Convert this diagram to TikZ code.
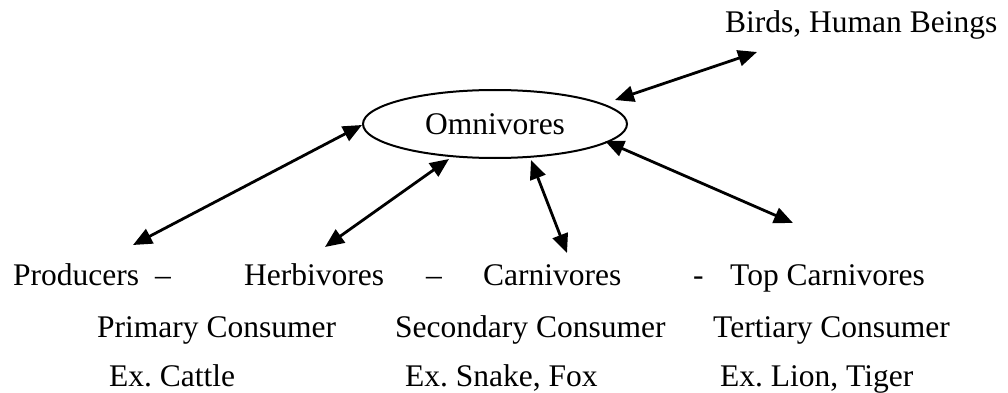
\documentclass[tikz,border=0pt]{standalone}
\usepackage{fontspec}
\setmainfont{Liberation Serif}
\usetikzlibrary{arrows.meta,shapes.geometric}
\begin{document}
\begin{tikzpicture}[x=1pt,y=-1pt,
  lbl/.style={anchor=base west,inner sep=0pt,font=\fontsize{31.5}{36}\selectfont},
  oval/.style={draw,ellipse,line width=2pt,minimum width=264pt,minimum height=68pt,inner sep=0pt,font=\fontsize{31.5}{36}\selectfont},
  link/.style={line width=2.8pt,{Triangle[length=19pt,width=16pt]}-{Triangle[length=19pt,width=16pt]}}]
\useasboundingbox (0,0) rectangle (1008,393);
% central node
\node[oval] (om) at (495,124) {Omnivores};
% top right label
\node[lbl] (birds) at (725,33) {Birds, Human Beings};
% row 1
\node[lbl] (prod) at (13,285) {Producers};
\node[lbl] (d1) at (155,285) {–};
\node[lbl] (herb) at (244,285) {Herbivores};
\node[lbl] (d2) at (426,285) {–};
\node[lbl] (carn) at (483,285) {Carnivores};
\node[lbl] (d3) at (693,285) {-};
\node[lbl] (top) at (730,285) {Top Carnivores};
% row 2
\node[lbl] (prim) at (97,337) {Primary Consumer};
\node[lbl] (sec) at (395,337) {Secondary Consumer};
\node[lbl] (ter) at (713,337) {Tertiary Consumer};
% row 3
\node[lbl] (ex1) at (109,386) {Ex.\ Cattle};
\node[lbl] (ex2) at (405,386) {Ex.\ Snake, Fox};
\node[lbl] (ex3) at (720,386) {Ex.\ Lion, Tiger};
% arrow end points
\coordinate (b1) at (615,100);
\coordinate (b2) at (757,52);
\coordinate (p1) at (362,125);
\coordinate (p2) at (133,245);
\coordinate (h1) at (449,159);
\coordinate (h2) at (325,247);
\coordinate (c1) at (531,160);
\coordinate (c2) at (567,253);
\coordinate (t1) at (605,141);
\coordinate (t2) at (793,223);
\draw[link] (b1) -- (b2);
\draw[link] (p1) -- (p2);
\draw[link] (h1) -- (h2);
\draw[link] (c1) -- (c2);
\draw[link] (t1) -- (t2);
\end{tikzpicture}
\end{document}
